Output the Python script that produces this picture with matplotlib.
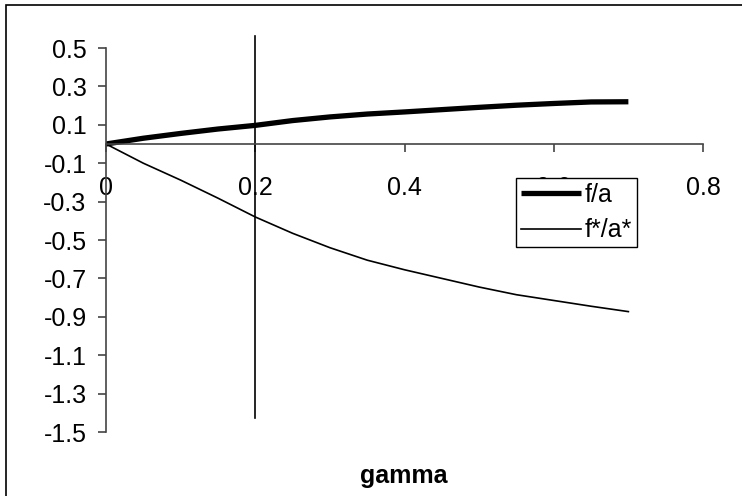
import matplotlib
matplotlib.use("Agg")
import matplotlib.pyplot as plt
from matplotlib.patches import Rectangle
from matplotlib.ticker import FormatStrFormatter

plt.rcParams['font.family'] = ['Liberation Sans', 'DejaVu Sans']
plt.rcParams['axes.unicode_minus'] = False

# values
gamma = [0.0, 0.05, 0.1, 0.15, 0.2, 0.25, 0.3, 0.35, 0.4, 0.45, 0.5, 0.55, 0.6, 0.65, 0.7]
f_a = [0.0, 0.03, 0.055, 0.078, 0.097, 0.122, 0.141, 0.156, 0.167, 0.179, 0.191, 0.202, 0.211, 0.219, 0.22]
fstar_astar = [0.0, -0.10, -0.188, -0.282, -0.38, -0.465, -0.54, -0.605, -0.655, -0.70,
               -0.745, -0.785, -0.815, -0.845, -0.873]

x_ticks = [0, 0.2, 0.4, 0.6, 0.8]
y_ticks = [-1.5, -1.3, -1.1, -0.9, -0.7, -0.5, -0.3, -0.1, 0.1, 0.3, 0.5]

# marker line at gamma = 0.2
vline_x = 0.2
vline_top = 0.5625
vline_bottom = -1.427

FS = 18

W, H = 742, 496
fig = plt.figure(figsize=(W / 100, H / 100), dpi=100)
ax = fig.add_axes([106 / W, 1 - 432 / H, (703 - 106) / W, (432 - 48) / H])

ax.plot(gamma, f_a, color='black', lw=3.8, label='f/a', solid_capstyle='butt')
ax.plot(gamma, fstar_astar, color='black', lw=1.2, label='f*/a*')
ax.plot([vline_x, vline_x], [vline_bottom, vline_top], color='black', lw=1.2, clip_on=False)

ax.set_xlim(0, 0.8)
ax.set_ylim(-1.5, 0.5)
ax.set_xticks(x_ticks)
ax.set_yticks(y_ticks)
ax.xaxis.set_major_formatter(FormatStrFormatter('%g'))
ax.yaxis.set_major_formatter(FormatStrFormatter('%.1f'))

for s in ['top', 'right']:
    ax.spines[s].set_visible(False)
ax.spines['bottom'].set_position(('data', 0))
ax.spines['left'].set_color('#444444')
ax.spines['bottom'].set_color('#444444')
ax.spines['left'].set_linewidth(1.2)
ax.spines['bottom'].set_linewidth(1.2)

ax.tick_params(axis='both', direction='out', length=6, width=1.2, color='#444444', labelsize=FS)
ax.tick_params(axis='y', pad=8)
ax.tick_params(axis='x', pad=17)

fig.text(404 / W, 1 - 476 / H, 'gamma', ha='center', va='center', fontsize=FS, fontweight='bold')

leg = ax.legend(loc='upper left', bbox_to_anchor=(516 / W, 1 - 178 / H), bbox_transform=fig.transFigure,
                frameon=True, fancybox=False, framealpha=1, edgecolor='black', fontsize=FS,
                handlelength=2.4, handletextpad=0.15, labelspacing=0.45, borderpad=0.2, borderaxespad=0)
leg.get_frame().set_linewidth(1.0)

# outer chart border (only left and top edges fall inside the picture)
fig.patches.append(Rectangle((6 / W, -0.1), 1.2, 1 - 5 / H + 0.1, transform=fig.transFigure,
                             fill=False, edgecolor='black', lw=1.2))

fig.savefig('out.png', dpi=100)
